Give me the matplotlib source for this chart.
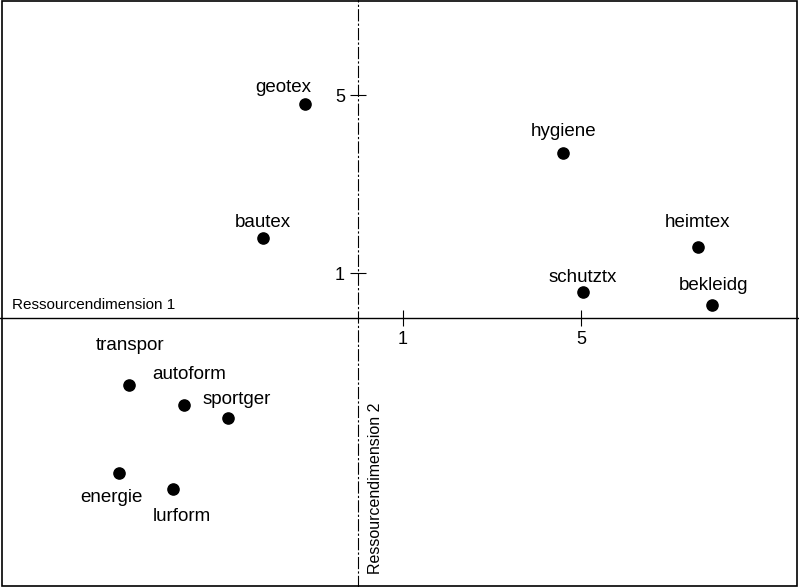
import matplotlib
matplotlib.use("Agg")
import matplotlib.pyplot as plt
from matplotlib.patches import Rectangle

plt.rcParams['font.family'] = ['Liberation Sans', 'DejaVu Sans']

names = ["geotex", "hygiene", "bautex", "heimtex", "schutztx", "bekleidg",
         "transpor", "autoform", "sportger", "energie", "lurform"]
dim1 = [-1.19, 4.60, -2.13, 7.62, 5.04, 7.94, -5.14, -3.90, -2.91, -5.36, -4.15]
dim2 = [4.80, 3.70, 1.79, 1.59, 0.58, 0.29, -1.50, -1.96, -2.24, -3.47, -3.83]
xticks = [1, 5]
yticks = [1, 5]
xlabel = "Ressourcendimension 1"
ylabel = "Ressourcendimension 2"

# label offsets in pixels (dx, dy), layout only
offsets = [(-22, 16), (0, 21), (0, 16), (0, 25), (0, 15), (1, 20),
           (1, 39), (5, 31), (8, 18), (-8, -25), (9, -28)]

fig = plt.figure(figsize=(7.99, 5.87), dpi=100)
ax = fig.add_axes([0, 0, 1, 1])
ax.set_xlim(-8.03, 9.89)
ax.set_ylim(-6.03, 7.13)

ax.scatter(dim1, dim2, s=65, color='black', zorder=3)
for n, x, y, (dx, dy) in zip(names, dim1, dim2, offsets):
    ax.annotate(n, (x, y), xytext=(dx * 0.72, dy * 0.72), textcoords='offset points',
                ha='center', va='center', fontsize=13.5)

for s in ['top', 'right']:
    ax.spines[s].set_visible(False)
ax.spines['left'].set_position('zero')
ax.spines['bottom'].set_position('zero')
ax.spines['left'].set_linestyle((0, (10, 3, 1, 3)))
ax.spines['left'].set_linewidth(0.8)
ax.spines['bottom'].set_linewidth(1.0)
ax.set_xticks(xticks)
ax.set_yticks(yticks)
ax.set_xticklabels([str(t) for t in xticks])
ax.set_yticklabels([str(t) for t in yticks])
ax.tick_params(axis='x', direction='inout', length=11, width=0.8, labelsize=13, pad=4)
ax.tick_params(axis='y', direction='inout', length=12, width=0.8, labelsize=13, pad=3.5)

fig.text(12 / 799, 1 - 305 / 587, xlabel, fontsize=11, va='center', ha='left')
fig.text(376 / 799, 1 - 488 / 587, ylabel, fontsize=11.5, va='center', ha='center', rotation=90)

fig.patches.append(Rectangle((0.002, 0.001), 0.996, 0.997, transform=fig.transFigure,
                             fill=False, edgecolor='black', linewidth=1.2))

fig.savefig("out.png", dpi=100)
